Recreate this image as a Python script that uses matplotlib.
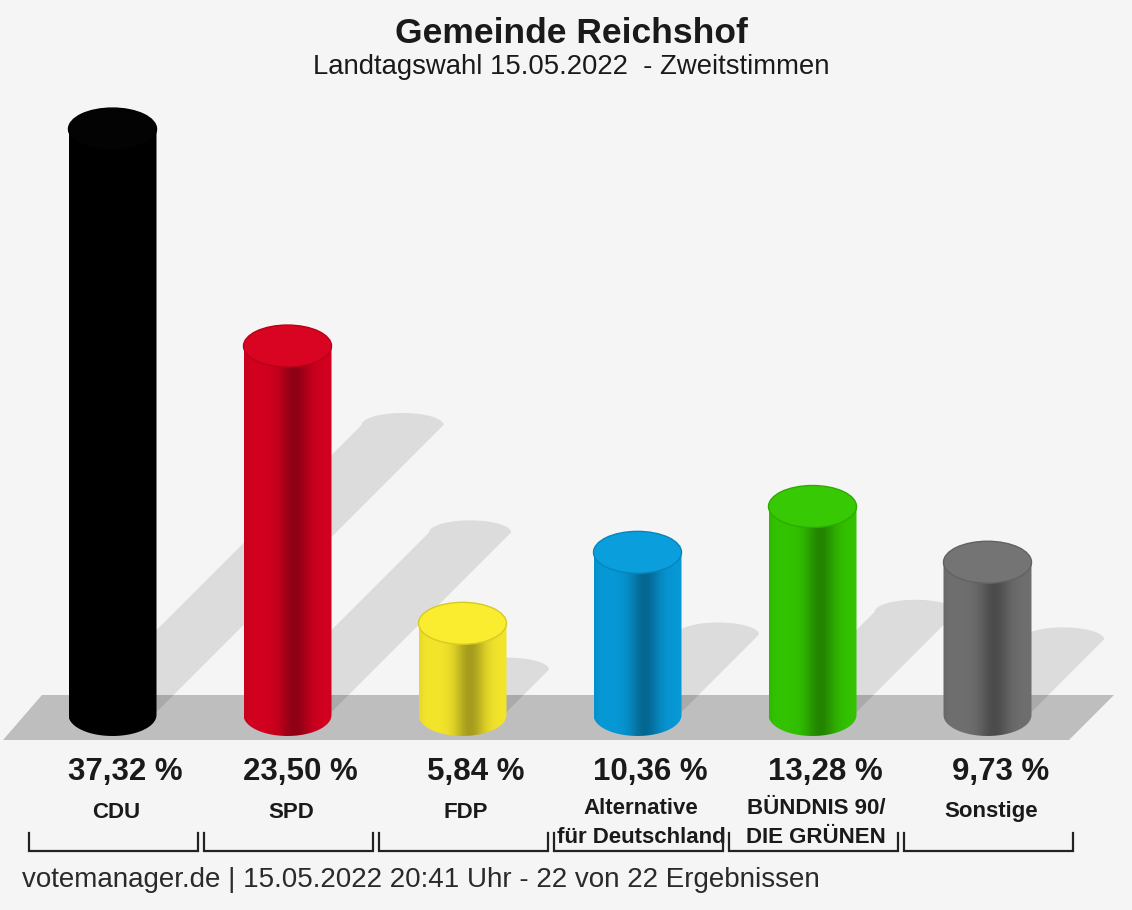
import numpy as np
import matplotlib
matplotlib.use("Agg")
import matplotlib.pyplot as plt
from matplotlib.patches import Polygon, Ellipse
from matplotlib.colors import to_rgb

parties = ['CDU', 'SPD', 'FDP', 'Alternative\nfür Deutschland', 'BÜNDNIS 90/\nDIE GRÜNEN', 'Sonstige']
values = [37.32, 23.50, 5.84, 10.36, 13.28, 9.73]
colors = ['#000000', '#d2001f', '#f3e52b', '#0798d6', '#33c300', '#6f6f6f']

title = 'Gemeinde Reichshof'
subtitle = 'Landtagswahl 15.05.2022  - Zweitstimmen'
footer = 'votemanager.de | 15.05.2022 20:41 Uhr - 22 von 22 Ergebnissen'

plt.rcParams['font.family'] = ['Liberation Sans', 'DejaVu Sans']

W, H = 1132, 910
fig = plt.figure(figsize=(W / 100, H / 100), dpi=100, facecolor='#f5f5f5')
ax = fig.add_axes([0, 0, 1, 1])
ax.set_facecolor('#f5f5f5')
ax.axis('off')

# layout: one category = 175 px, one percent = 15.7 px
x0, step = 112.5, 175.0
y0, ppu = 715.0, 15.7


def X(px):
    return (px - x0) / step


def Y(py):
    return (y0 - py) / ppu


hw = 44 / step          # half bar width
ry = 21 / ppu           # ellipse half height
shw = 41 / step         # shadow half width
sry = 12 / ppu          # shadow cap height

# floor
floor = Polygon([(X(3), Y(740)), (X(42), Y(695)), (X(1114), Y(695)), (X(1069), Y(740))],
                closed=True, facecolor='#bebebe', edgecolor='none', zorder=1)
ax.add_patch(floor)

t = np.linspace(0, np.pi, 40)
for i, v in enumerate(values):
    # shadow, thrown up and to the right
    dx = 0.495 * v * ppu / step
    dy = 0.495 * v
    pts = [(i - shw, 0), (i + shw, 0), (i + shw + dx, dy)]
    pts += [(i + dx + shw * np.cos(a), dy + sry * np.sin(a)) for a in t]
    pts += [(i - shw + dx, dy)]
    ax.add_patch(Polygon(pts, closed=True, facecolor='black', alpha=0.1,
                         edgecolor='none', zorder=2))

for i, (v, c) in enumerate(zip(values, colors)):
    base = np.array(to_rgb(c))
    # body outline: bottom half ellipse + sides
    tb = np.linspace(np.pi, 2 * np.pi, 40)
    body = [(i + hw * np.cos(a), ry * np.sin(a)) for a in tb]
    body += [(i + hw, v), (i - hw, v)]
    clip = Polygon(body, closed=True, facecolor='none', edgecolor='none', transform=ax.transData)
    ax.add_patch(clip)

    s = np.linspace(0, 1, 200)
    shade = 1 - 0.32 * np.exp(-((s - 0.58) / 0.17) ** 2) - 0.05 * np.exp(-(s / 0.05) ** 2)
    img = np.clip(base[None, :] * shade[:, None], 0, 1)[None, :, :]
    im = ax.imshow(img, extent=(i - hw, i + hw, -ry, v), aspect='auto',
                   interpolation='bilinear', zorder=3)
    im.set_clip_path(clip)

    top = Ellipse((i, v), 2 * hw, 2 * ry, facecolor=np.clip(base * 1.02 + 0.01, 0, 1),
                  edgecolor=base * 0.88, lw=1, zorder=4)
    ax.add_patch(top)

    # value label
    ax.text(i + 13 / step, Y(772), f'{v:.2f}'.replace('.', ',') + ' %', ha='center', va='center',
            fontsize=22.5, fontweight='bold', color='#1a1a1a')
    # party name
    name = parties[i]
    ny = Y(823) if '\n' in name else Y(812)
    ax.text(i + 3.5 / step, ny, name, ha='center', va='center', fontsize=16, fontweight='bold',
            color='#1a1a1a', linespacing=1.55)
    # bracket
    left, right = i - 0.475, i + 0.49
    ax.plot([left, left, right, right], [Y(833), Y(851), Y(851), Y(833)],
            color='#222222', lw=1.6, solid_joinstyle='miter', zorder=5)

ax.text(X(571), Y(33), title, ha='center', va='center', fontsize=25.5,
        fontweight='bold', color='#1a1a1a')
ax.text(X(571), Y(67), subtitle, ha='center', va='center', fontsize=19.8, color='#1a1a1a')
ax.text(X(22), Y(880), footer, ha='left', va='center', fontsize=20, color='#2a2a2a')

ax.set_xlim(X(0), X(W))
ax.set_ylim(Y(H), Y(0))

fig.savefig('out.png', dpi=100, facecolor=fig.get_facecolor())
